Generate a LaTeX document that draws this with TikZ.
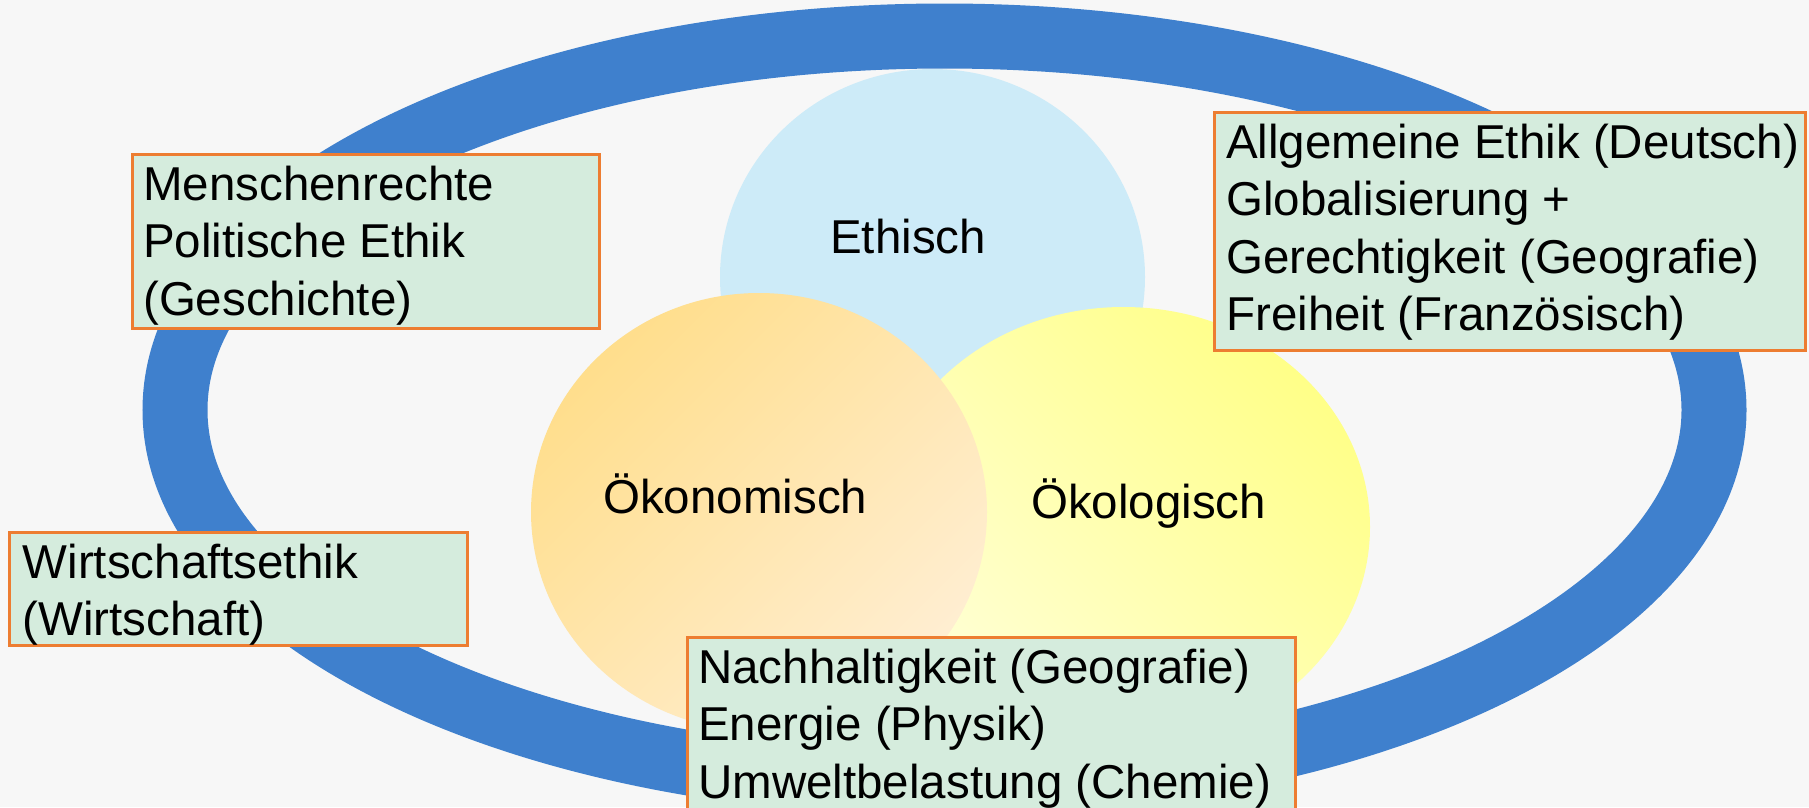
\documentclass[tikz,border=0pt]{standalone}
\usepackage{fontspec}
\setmainfont{Liberation Sans}
\usetikzlibrary{shapes.geometric}
\definecolor{bgcol}{HTML}{F7F7F7}
\definecolor{ringblue}{HTML}{3F80CD}
\definecolor{ethblue}{HTML}{CDEBF8}
\definecolor{orangedark}{HTML}{FFDE8C}
\definecolor{orangelight}{HTML}{FFEED2}
\definecolor{yellowdark}{HTML}{FFFF88}
\definecolor{yellowlight}{HTML}{FFFFD6}
\definecolor{boxgreen}{HTML}{D5ECDD}
\definecolor{boxorange}{HTML}{ED7D31}
\begin{document}
\begin{tikzpicture}[x=1pt,y=-1pt,
  ringline/.style={draw=ringblue, line width=65pt},
  blob/.style={ellipse, inner sep=0pt, draw=none},
  frame/.style={rectangle, draw=boxorange, line width=2.5pt, fill=boxgreen, inner sep=0pt, anchor=north west},
  boxtext/.style={anchor=north west, inner sep=0pt, align=left, font=\fontsize{47.5}{57.4}\selectfont},
  circtext/.style={anchor=base west, inner sep=0pt, font=\fontsize{47.5}{57.4}\selectfont}
]
\useasboundingbox (0,0) rectangle (1809,807);
\clip (0,0) rectangle (1809,807);
\fill[bgcol] (0,0) rectangle (1809,807);

% ring
\draw[ringline] (944.5,410) ellipse [x radius=769.5pt, y radius=374pt];

% circles
\node[blob, fill=ethblue, minimum width=425pt, minimum height=416pt] (ethisch) at (932.5,277) {};
\node[blob, top color=yellowdark, bottom color=yellowlight, shading angle=-45, minimum width=493pt, minimum height=440pt] (oekologisch) at (1123.5,527) {};
\node[blob, top color=orangedark, bottom color=orangelight, shading angle=45, minimum width=456pt, minimum height=438pt] (oekonomisch) at (759,512) {};

\node[circtext] (tEth) at (830,253) {Ethisch};
\node[circtext] (tOkon) at (603,513) {Ökonomisch};
\node[circtext] (tOkol) at (1031,518) {Ökologisch};

% boxes
\node[frame, minimum width=467pt, minimum height=174pt] (box1) at (131,153) {};
\node[boxtext] (text1) at (143,155) {\rule{0pt}{45pt}Menschenrechte\\Politische Ethik\\(Geschichte)};

\node[frame, minimum width=591pt, minimum height=238pt] (box2) at (1213,111) {};
\node[boxtext] (text2) at (1226,113) {\rule{0pt}{45pt}Allgemeine Ethik (Deutsch)\\Globalisierung +\\Gerechtigkeit (Geografie)\\Freiheit (Französisch)};

\node[frame, minimum width=458pt, minimum height=113pt] (box3) at (8,531) {};
\node[boxtext] (text3) at (22.5,533) {\rule{0pt}{45pt}Wirtschaftsethik\\(Wirtschaft)};

\node[frame, minimum width=608pt, minimum height=220pt] (box4) at (686,636) {};
\node[boxtext] (text4) at (698,638.3) {\rule{0pt}{45pt}Nachhaltigkeit (Geografie)\\Energie (Physik)\\Umweltbelastung (Chemie)};
\end{tikzpicture}
\end{document}
